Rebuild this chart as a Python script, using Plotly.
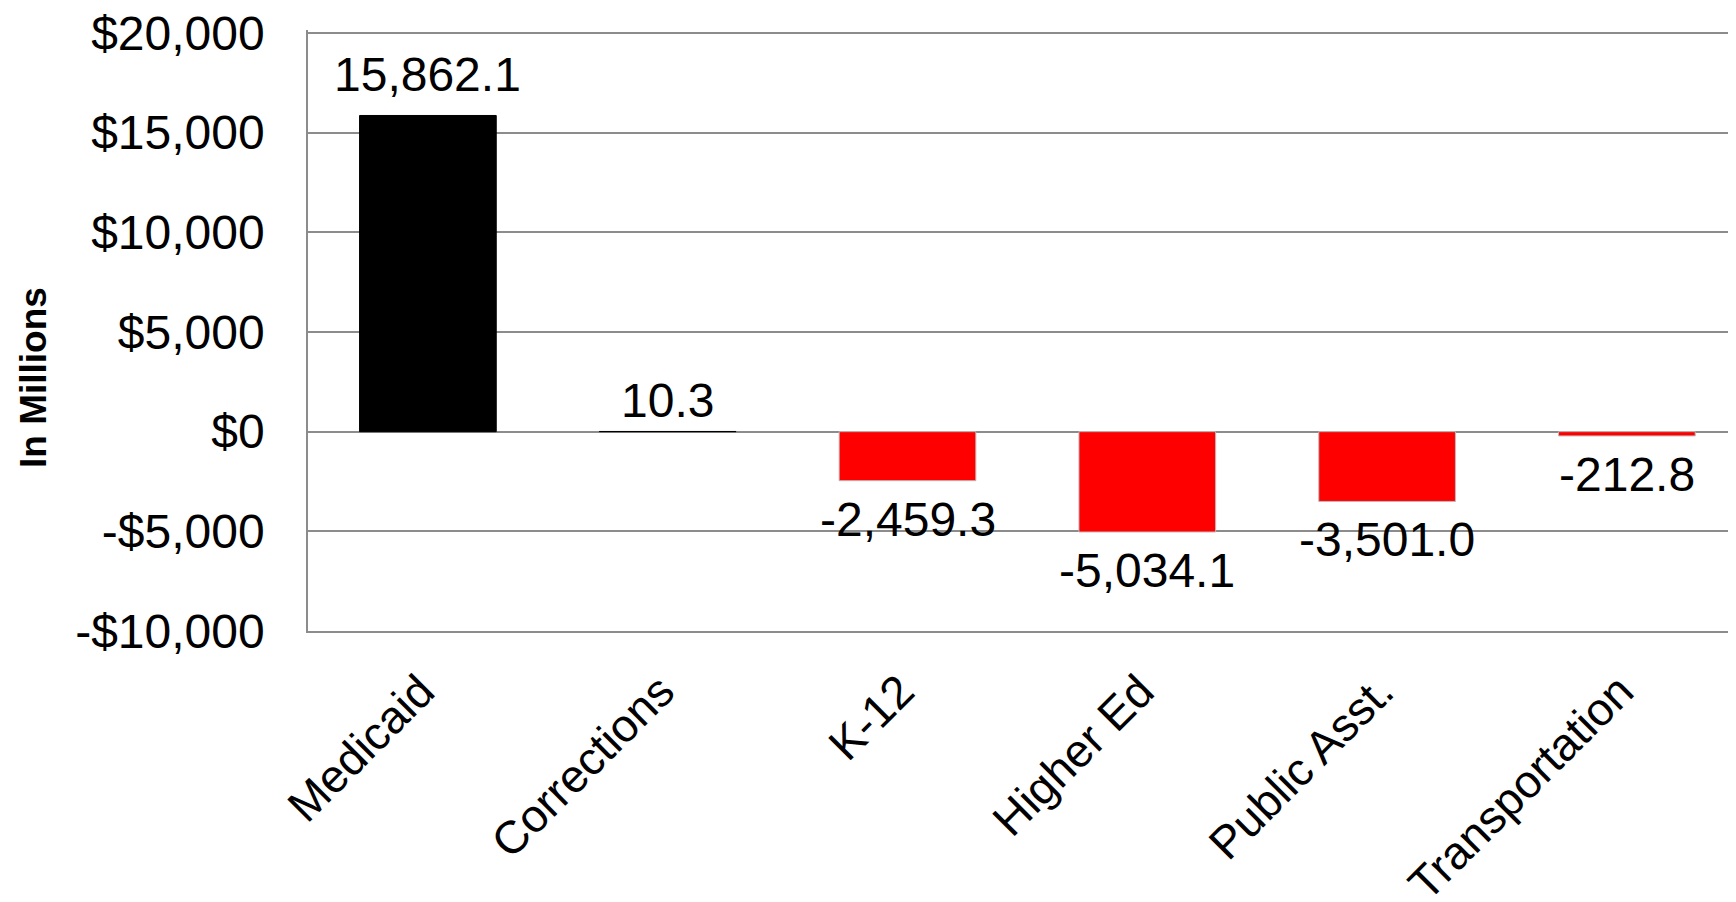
import plotly.graph_objects as go

categories = ["Medicaid", "Corrections", "K-12", "Higher Ed", "Public Asst.", "Transportation"]
values = [15862.1, 10.3, -2459.3, -5034.1, -3501.0, -212.8]
value_labels = ["15,862.1", "10.3", "-2,459.3", "-5,034.1", "-3,501.0", "-212.8"]
tick_vals = [-10000, -5000, 0, 5000, 10000, 15000, 20000]
tick_text = ["-$10,000", "-$5,000", "$0", "$5,000", "$10,000", "$15,000", "$20,000"]

FONT = "Liberation Sans, Arial, sans-serif"
colors = ["#000000" if v >= 0 else "#FF0000" for v in values]
line_colors = ["#000000" if v >= 0 else "#BBBBBB" for v in values]

# The page body has a default 8px margin, so the figure is drawn 8px smaller
# and offset by 8px to fill the 1736x902 window.
W, H = 1728, 894
L, T = 300, 22
PLOT_W, PLOT_H = 1428, 601

fig = go.Figure()
fig.add_trace(go.Bar(
    x=categories, y=values,
    marker=dict(color=colors, line=dict(color=line_colors, width=1)),
    width=0.57,
    hoverinfo="skip",
))

for c, v, t in zip(categories, values, value_labels):
    pos = v >= 0
    fig.add_annotation(
        x=c, y=v, xref="x", yref="y", text=t, showarrow=False,
        yanchor="bottom" if pos else "top",
        yshift=(12 if abs(v) > 1000 else 2) if pos else -10,
        font=dict(family=FONT, size=48, color="#000000"),
    )

fig.add_annotation(
    xref="paper", yref="paper", x=(26 - L) / PLOT_W, y=(T + PLOT_H - 370) / PLOT_H,
    text="<b>In Millions</b>", textangle=-90, showarrow=False,
    font=dict(family=FONT, size=37, color="#000000"),
    xanchor="center", yanchor="middle",
)

fig.update_layout(
    width=W, height=H,
    margin=dict(l=L, r=W - L - PLOT_W, t=T, b=H - T - PLOT_H, autoexpand=False),
    paper_bgcolor="white", plot_bgcolor="white",
    showlegend=False,
    font=dict(family=FONT, size=46, color="#000000"),
)
fig.update_xaxes(
    range=[-0.5, 5.455], tickangle=-45, automargin=False,
    showgrid=False, showline=True, linecolor="#8C8C8C", linewidth=1.5,
    ticks="", ticklabelstandoff=13, ticklabelshift=-7, ticklabeloverflow="allow",
    tickfont=dict(family=FONT, size=46, color="#000000"),
)
fig.update_yaxes(
    range=[-10000, 20150], tickvals=tick_vals, ticktext=tick_text, automargin=False,
    showgrid=True, gridcolor="#8C8C8C", gridwidth=1.5,
    zeroline=True, zerolinecolor="#8C8C8C", zerolinewidth=1.5,
    showline=True, linecolor="#8C8C8C", linewidth=1.5,
    ticks="", ticklabelstandoff=32, ticklabeloverflow="allow",
    tickfont=dict(family=FONT, size=48, color="#000000"),
)

fig.write_html("out.html")
